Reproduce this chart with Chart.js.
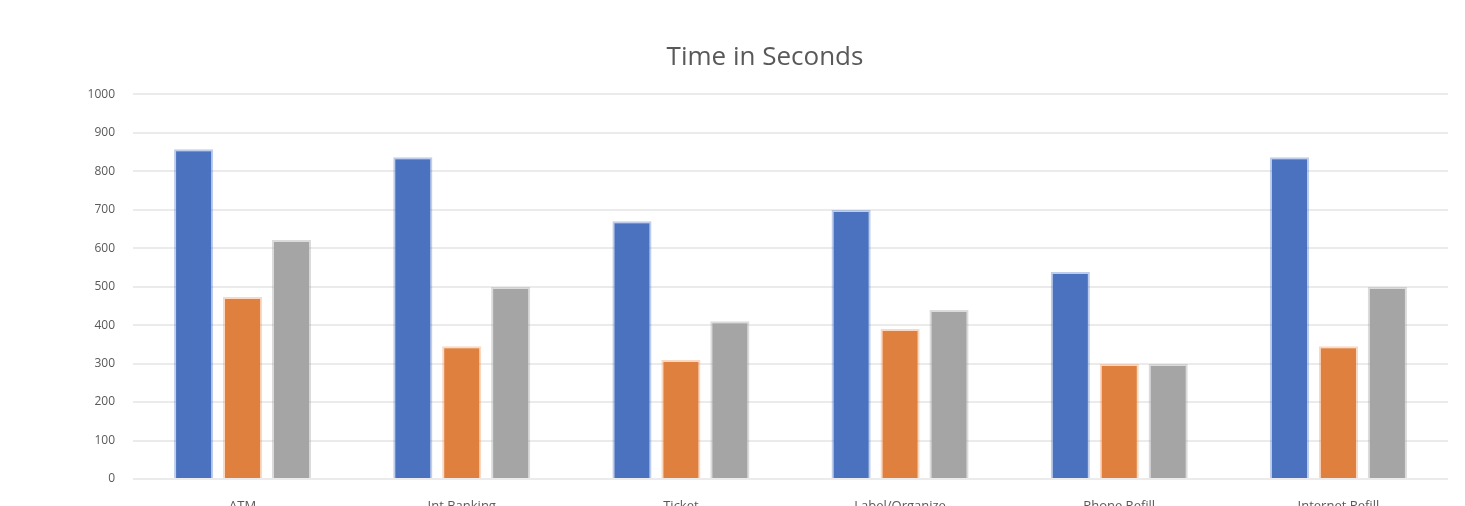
<!DOCTYPE html>
<html>
<head>
<meta charset="utf-8">
<script src="https://cdn.jsdelivr.net/npm/chart.js@4/dist/chart.umd.min.js"></script>
<style>
    html, body { margin: 0; padding: 0; background: #fff; overflow: hidden; }
    #wrap { width: 1465px; height: 520px; }
</style>
</head>
<body>
<div id="wrap"><canvas id="tiempoChart" width="1465" height="520"></canvas></div>
<script>
// ===== DATOS =====
const categorias = ['ATM', 'Int Banking', 'Ticket', 'Label/Organize', 'Phone Refill', 'Internet Refill'];
const serie1 = [857, 836, 670, 699, 538, 836];
const serie2 = [473, 345, 309, 390, 299, 345];
const serie3 = [621, 499, 410, 439, 299, 499];
const ticksY = [0, 100, 200, 300, 400, 500, 600, 700, 800, 900, 1000];

const fuente = "'Open Sans', 'Noto Sans', sans-serif";

// ===== GRÁFICO TIEMPO =====
const ctx = document.getElementById('tiempoChart');

new Chart(ctx, {
    type: 'bar',
    data: {
        labels: categorias,
        datasets: [{
            label: 'Series1',
            data: serie1,
            backgroundColor: '#4A72BF',
            borderColor: 'rgba(68,114,196,0.35)',
            borderWidth: 2,
            borderSkipped: 'bottom'
        }, {
            label: 'Series2',
            data: serie2,
            backgroundColor: '#E0803F',
            borderColor: 'rgba(237,125,49,0.3)',
            borderWidth: 2,
            borderSkipped: 'bottom'
        }, {
            label: 'Series3',
            data: serie3,
            backgroundColor: '#A5A5A5',
            borderColor: 'rgba(165,165,165,0.4)',
            borderWidth: 2,
            borderSkipped: 'bottom'
        }]
    },
    options: {
        responsive: false,
        animation: false,
        categoryPercentage: 0.67,
        barPercentage: 0.8,
        layout: {
            padding: { left: 82, right: 17, top: 30, bottom: 11 }
        },
        plugins: {
            legend: { display: false },
            tooltip: { enabled: false },
            title: {
                display: true,
                text: 'Time in Seconds',
                color: '#595959',
                font: { family: fuente, size: 26, weight: 'normal' },
                padding: { top: 12, bottom: 21 }
            }
        },
        scales: {
            x: {
                grid: { display: false, drawTicks: false },
                border: { display: false },
                ticks: {
                    color: '#595959',
                    font: { family: fuente, size: 13 },
                    padding: 19,
                    maxRotation: 0
                },
                afterFit: (scale) => { scale.height = 30; }
            },
            y: {
                min: 0,
                max: 1000,
                afterBuildTicks: (scale) => {
                    scale.ticks = ticksY.map(v => ({ value: v }));
                },
                grid: { color: '#ebebeb', lineWidth: 2, drawTicks: false },
                border: { display: false },
                ticks: {
                    color: '#595959',
                    font: { family: fuente, size: 12 },
                    padding: 18,
                    callback: (v) => String(v)
                },
                afterFit: (scale) => { scale.width = 51; }
            }
        }
    }
});
</script>
</body>
</html>
